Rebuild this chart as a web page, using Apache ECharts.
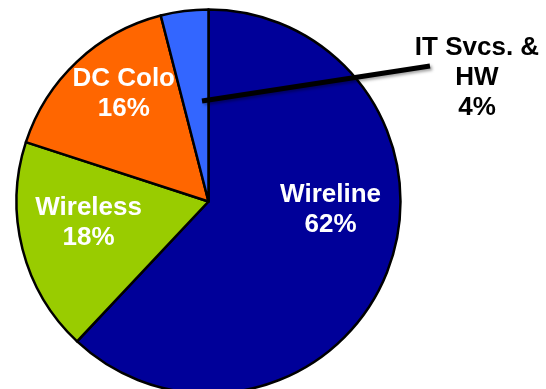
<!DOCTYPE html>
<html>
<head>
<meta charset="utf-8">
<script src="https://cdn.jsdelivr.net/npm/echarts@6/dist/echarts.min.js"></script>
<style>
  html, body { margin: 0; padding: 0; background: #ffffff; }
  #chart { width: 546px; height: 389px; }
</style>
</head>
<body>
<div id="chart"></div>
<script>
// Revenue mix by business line (percent)
var categories = ['Wireline', 'Wireless', 'DC Colo', 'IT Svcs. &\nHW'];
var shares = [62, 18, 16, 4];
var colors = ['#000099', '#99CC00', '#FF6600', '#3366FF'];

// Nudges for the inside labels, relative to their default slot
var labelOffsets = [[30, -28], [-24, -3], [-17, -36], null];

var labelFont = {
  fontFamily: 'Liberation Sans, Arial, sans-serif',
  fontWeight: 'bold',
  fontSize: 26,
  lineHeight: 30
};

function pctLabel(p) { return p.name + '\n' + p.value + '%'; }

// Base pie: filled slices with the white inside labels
var baseData = categories.map(function (name, i) {
  var inside = !!labelOffsets[i];
  return {
    name: name,
    value: shares[i],
    itemStyle: { color: colors[i] },
    label: inside ? Object.assign({
      show: true,
      position: 'inside',
      color: '#ffffff',
      offset: labelOffsets[i]
    }, labelFont) : { show: false },
    labelLine: { show: false }
  };
});

// Overlay pie (same geometry, no fill) carrying the callout for the small slice,
// so its leader line sits on top of the slices
var calloutData = categories.map(function (name, i) {
  var callout = !labelOffsets[i];
  return {
    name: name,
    value: shares[i],
    label: callout ? Object.assign({
      show: true,
      position: 'outside',
      color: '#000000',
      align: 'center'
    }, labelFont) : { show: false },
    labelLine: callout ? {
      show: true,
      lineStyle: {
        color: '#000000',
        width: 5,
        shadowColor: 'rgba(0,0,0,0.35)',
        shadowBlur: 3,
        shadowOffsetX: 2,
        shadowOffsetY: 2
      }
    } : { show: false }
  };
});

var chart = echarts.init(document.getElementById('chart'), null, { renderer: 'canvas' });
chart.setOption({
  animation: false,
  backgroundColor: '#ffffff',
  series: [{
    type: 'pie',
    z: 2,
    center: [208.5, 201.5],
    radius: [0, 192],
    startAngle: 90,
    clockwise: true,
    avoidLabelOverlap: false,
    silent: true,
    itemStyle: { borderColor: '#000000', borderWidth: 2.5 },
    label: { formatter: pctLabel },
    data: baseData
  }, {
    type: 'pie',
    z: 5,
    center: [208.5, 201.5],
    radius: [0, 192],
    startAngle: 90,
    clockwise: true,
    avoidLabelOverlap: false,
    silent: true,
    itemStyle: { color: 'rgba(0,0,0,0)', borderWidth: 0 },
    label: { formatter: pctLabel },
    labelLayout: function (p) {
      if (p.dataIndex !== 3) { return {}; }
      return {
        x: 477,
        y: 78,
        align: 'center',
        verticalAlign: 'middle',
        labelLinePoints: [[202, 101], [316, 83.5], [430, 66]]
      };
    },
    data: calloutData
  }]
});
</script>
</body>
</html>
